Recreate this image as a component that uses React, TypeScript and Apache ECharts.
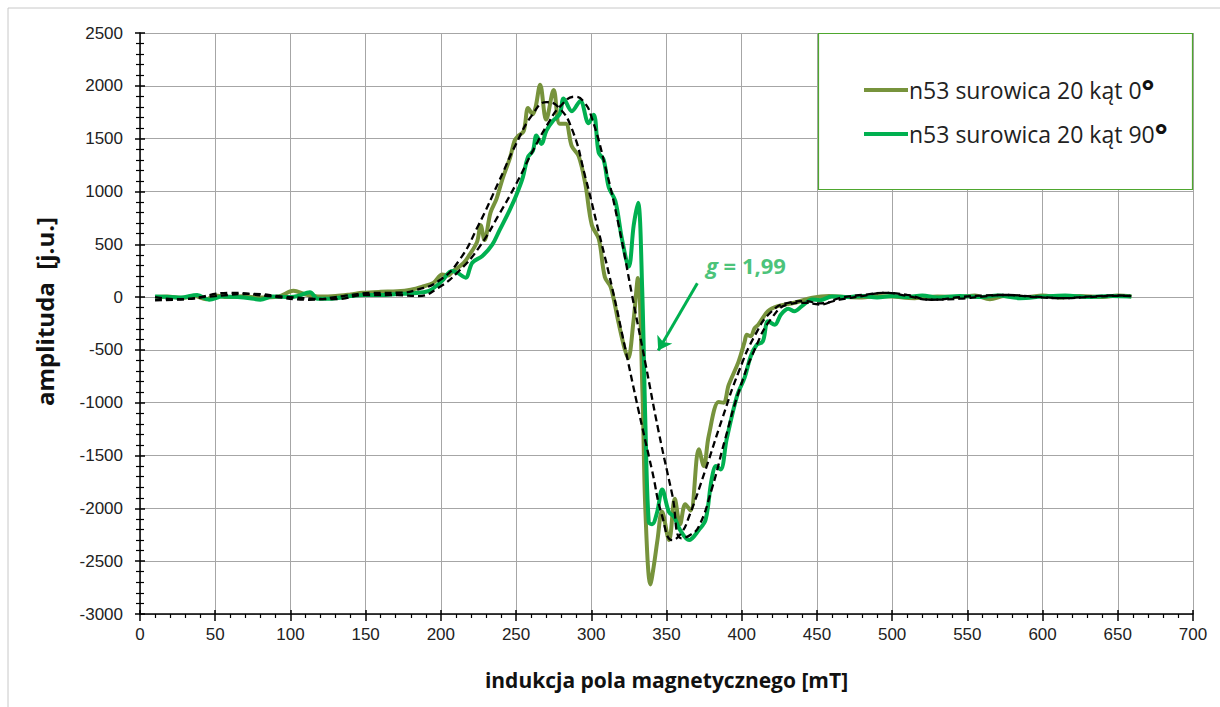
import React, { useEffect, useRef } from "react";
import * as echarts from "echarts";

const xTicks = { min: 0, max: 700, interval: 50 };
const yTicks = { min: -3000, max: 2500, interval: 500 };

const seriesNames = ["n53 surowica 20 kąt 0°", "n53 surowica 20 kąt 90°"];

// [mT, amplitude]
const angle0: number[][] = [
  [10, 0], [18, 5], [28, -8], [36, 10], [44, -20], [50, 15], [58, 0], [68, 8], [80, -5], [92, 5],
  [102, 60], [110, 25], [120, 5], [130, 10], [140, 25], [148, 40], [160, 50], [171, 55], [180, 70],
  [188, 100], [195, 135], [201, 215], [205, 205], [208, 245], [215, 320], [219, 400], [224, 520],
  [226.5, 680], [229, 540], [233, 800], [237, 930], [241, 1120], [246, 1320], [249, 1480], [251, 1520],
  [255, 1570], [258, 1790], [261, 1730], [263, 1800], [266, 2010], [270, 1680], [275, 1960], [279, 1640],
  [283, 1640], [287, 1430], [291.6, 1334], [296, 1073], [300.4, 680], [305, 550], [309, 190], [313, 92],
  [318, -235], [322, -480], [324.5, -580], [328, -235], [331, 180], [334, -890], [336, -2034],
  [339.3, -2720], [341.5, -2550], [344, -2300], [347, -2030], [351.7, -2300], [355.5, -1910],
  [359, -2150], [362.5, -1960], [366, -2020], [371.5, -1440], [374.8, -1600], [378.1, -1312],
  [384.7, -994], [388, -1000], [391.3, -834], [397.9, -611], [402, -420], [403.4, -357], [406, -370],
  [408.6, -293], [411, -261], [417.4, -134], [424, -86], [435, -54], [447, -6], [458, 10], [469, 0],
  [480, -5], [490, 10], [500, 5], [515, -10], [530, 5], [545, 0], [555, 15], [565, -20], [575, 10],
  [590, 0], [600, 15], [612, -5], [625, 10], [640, 0], [650, 15], [659, 5],
];

const angle90: number[][] = [
  [10, 5], [20, 0], [27, -5], [38, 20], [46, -25], [55, 5], [65, 0], [73, -10], [80, -25], [88, 5],
  [100, 0], [105, 10], [113, 47], [118, -15], [126, -15], [140, 10], [148.5, 20], [160, 20], [171, 30],
  [180, 35], [190, 50], [194, 73], [200.7, 152], [207.4, 247], [211, 230], [216.4, 184], [220.9, 326],
  [227.6, 389], [234.3, 500], [238.8, 627], [245.5, 817], [250, 959], [254.5, 1133], [257.8, 1323],
  [261.2, 1386], [263.5, 1529], [266.8, 1450], [270.2, 1576], [274.7, 1671], [279.1, 1734],
  [281.6, 1880], [287.1, 1760], [292.7, 1857], [298.2, 1645], [301.6, 1727], [304.9, 1367],
  [308.2, 1301], [311.6, 1040], [316, 909], [320.4, 549], [324.9, 288], [328.2, 680], [331.1, 893],
  [333.8, 92], [336, -1216], [338.2, -2132], [340.4, -2150], [343.8, -2034], [347.1, -1822],
  [351.6, -2034], [355, -2080], [359, -2204], [365, -2300], [371.5, -2204], [376, -2108], [380, -1726],
  [383, -1600], [386, -1631], [390, -1344], [397, -930], [402, -760], [406, -560], [410, -452],
  [414, -420], [417.5, -229], [422, -261], [426, -166], [431, -110], [435, -134], [440, -86],
  [447, -22], [452, -30], [460, 5], [470, 0], [480, 10], [490, -5], [500, 10], [510, 0], [520, 15],
  [530, -5], [545, 10], [560, 0], [570, 15], [585, -10], [600, 5], [615, 15], [630, 0], [645, 10],
  [659, 5],
];

const fit0: number[][] = [
  [10, -30], [30, -20], [60, 40], [85, 10], [112, -25], [135, 10], [155, 40], [171, 41], [185, 73],
  [198.4, 152], [211.9, 342], [225.3, 690], [238.8, 1101], [250, 1450], [261.2, 1734], [270.2, 1845],
  [278, 1800], [287, 1596], [296, 1138], [305, 615], [313.8, 92], [322.7, -497], [331.6, -1086],
  [340.4, -1641], [347, -2067], [354, -2300], [360, -2230], [365, -2077], [376, -1631], [387, -1153],
  [398, -707], [409, -357], [420, -134], [431, -54], [442, -38], [452, -60], [465, -25], [480, 10],
  [495, 40], [510, 20], [526, -25], [545, -15], [560, 5], [575, 20], [595, 5], [614, -10], [630, 0],
  [651, 12], [659, 10],
];

const fit90: number[][] = [
  [10, 0], [25, -20], [50, 10], [75, 30], [95, 5], [115, -15], [130, -20], [150, 20], [171, 19],
  [185, 10], [198.4, 89], [212, 247], [225.3, 468], [238.8, 785], [250, 1070], [261.2, 1386],
  [272.4, 1671], [279, 1800], [289, 1897], [295, 1850], [300.4, 1694], [309.3, 1236], [318.2, 680],
  [327, 26], [336, -628], [344.9, -1282], [353.8, -1870], [360, -2284], [366, -2250], [371.5, -2172],
  [380, -1822], [389, -1344], [398, -898], [409, -484], [420, -197], [431, -70], [442, -54], [452, -70],
  [465, -10], [480, 20], [497, 40], [510, 10], [526, -25], [545, 0], [560, 15], [575, 20], [595, 0],
  [614, -10], [630, 5], [651, 15], [659, 10],
];

const arrowStart = [370.5, 130];
const arrowEnd = [344.5, -505];
const annotationText = "g = 1,99";

const C0 = "#77933C";
const C90 = "#00B050";

export default function App() {
  const ref = useRef<HTMLDivElement>(null);
  useEffect(() => {
    document.body.style.margin = "0";
    const chart = echarts.init(ref.current!, null, { renderer: "svg" });
    const axisFont = { fontFamily: "Liberation Sans", fontSize: 17, color: "#222" };
    const xTitleFont = { fontFamily: "Open Sans", fontSize: 21, fontWeight: "bold" as const, color: "#111" };
    const yTitleFont = {
      fontFamily: "Open Sans",
      fontSize: 24,
      fontWeight: "bold" as const,
      color: "#111",
      padding: [0, 0, 0, 24],
    };
    const xBase = {
      type: "value" as const,
      min: xTicks.min,
      max: xTicks.max,
      interval: xTicks.interval,
    };
    const yBase = {
      type: "value" as const,
      min: yTicks.min,
      max: yTicks.max,
      interval: yTicks.interval,
    };
    chart.setOption({
      animation: false,
      backgroundColor: "#fff",
      grid: { left: 140, right: 27, top: 33, bottom: 93, containLabel: false },
      xAxis: [
        {
          ...xBase,
          name: "indukcja pola magnetycznego [mT]",
          nameLocation: "middle",
          nameGap: 55,
          nameTextStyle: xTitleFont,
          axisLine: { show: true, onZero: false, lineStyle: { color: "#000", width: 1.5 } },
          axisTick: { show: true, length: 7, lineStyle: { color: "#000", width: 1.5 } },
          minorTick: { show: true, splitNumber: 5, length: 4, lineStyle: { color: "#000", width: 1.2 } },
          axisLabel: { ...axisFont, margin: 12, formatter: (v: number) => String(v) },
          splitLine: { show: true, lineStyle: { color: "#a6a6a6", width: 1 } },
        },
        {
          ...xBase,
          position: "bottom",
          axisLine: { show: false, onZero: false },
          axisTick: { show: true, inside: true, length: 4, lineStyle: { color: "#000", width: 1.5 } },
          axisLabel: { show: false },
          splitLine: { show: false },
        },
      ],
      yAxis: [
        {
          ...yBase,
          name: "amplituda  [j.u.]",
          nameLocation: "middle",
          nameGap: 84,
          nameTextStyle: yTitleFont,
          axisLine: { show: true, onZero: false, lineStyle: { color: "#000", width: 1.5 } },
          axisTick: { show: true, length: 5, lineStyle: { color: "#000", width: 1.5 } },
          minorTick: { show: true, splitNumber: 5, length: 4, lineStyle: { color: "#000", width: 1.2 } },
          axisLabel: { ...axisFont, margin: 17, formatter: (v: number) => String(v) },
          splitLine: { show: true, lineStyle: { color: "#a6a6a6", width: 1 } },
        },
        {
          ...yBase,
          position: "left",
          axisLine: { show: false, onZero: false },
          axisTick: { show: true, inside: true, length: 5, lineStyle: { color: "#000", width: 1.5 } },
          minorTick: { show: true, splitNumber: 5, length: 4, lineStyle: { color: "#000", width: 1.2 } },
          axisLabel: { show: false },
          splitLine: { show: false },
        },
      ],
      legend: {
        data: seriesNames,
        orient: "vertical",
        left: 859,
        top: 70,
        icon: "rect",
        itemWidth: 44,
        itemHeight: 4,
        itemGap: 14,
        z: 10,
        formatter: (name: string) => `{a|${name.slice(0, -1)}}{b|°}`,
        textStyle: {
          rich: {
            a: { fontFamily: "Open Sans", fontSize: 23, color: "#222", padding: [0, 0, 0, -4] },
            b: { fontFamily: "Open Sans", fontSize: 30, fontWeight: "bold", color: "#111", verticalAlign: "top" },
          },
        },
      },
      graphic: [
        {
          type: "rect",
          shape: { x: 8, y: 8, width: 1240, height: 740 },
          style: { fill: "none", stroke: "#c8c8c8", lineWidth: 1 },
          silent: true,
          z: 0,
        },
        {
          type: "rect",
          shape: { x: 818.5, y: 33.5, width: 374, height: 156 },
          style: { fill: "#fff", stroke: "#4ea72e", lineWidth: 1.2 },
          silent: true,
          z: 9,
        },
        {
          type: "text",
          x: 706,
          y: 254,
          z: 9,
          style: {
            text: `{g|${annotationText.slice(0, 1)}}{r|${annotationText.slice(1)}}`,
            rich: {
              g: { fontFamily: "Open Sans", fontSize: 22, fontWeight: "bold", fontStyle: "italic", fill: "#4cc37a" },
              r: { fontFamily: "Open Sans", fontSize: 22, fontWeight: "bold", fill: "#4cc37a" },
            },
          },
        },
      ],
      series: [
        {
          name: seriesNames[0],
          type: "line",
          data: angle0,
          showSymbol: false,
          smooth: 0.35,
          lineStyle: { color: C0, width: 4 },
          itemStyle: { color: C0 },
          z: 2,
        },
        {
          name: seriesNames[1],
          type: "line",
          data: angle90,
          showSymbol: false,
          smooth: 0.35,
          lineStyle: { color: C90, width: 4 },
          itemStyle: { color: C90 },
          z: 3,
          markLine: {
            silent: true,
            symbol: ["none", "arrow"],
            symbolSize: 13,
            label: { show: false },
            lineStyle: { color: C90, width: 3, type: "solid" },
            data: [[{ coord: arrowStart }, { coord: arrowEnd }]],
          },
        },
        {
          name: "fit 0",
          type: "line",
          data: fit0,
          showSymbol: false,
          smooth: 0.5,
          lineStyle: { color: "#000", width: 2.3, type: [7, 4] },
          z: 5,
        },
        {
          name: "fit 90",
          type: "line",
          data: fit90,
          showSymbol: false,
          smooth: 0.5,
          lineStyle: { color: "#000", width: 2.3, type: [7, 4] },
          z: 5,
        },
      ],
    });
    return () => chart.dispose();
  }, []);
  return <div ref={ref} style={{ width: 1220, height: 707 }} />;
}
